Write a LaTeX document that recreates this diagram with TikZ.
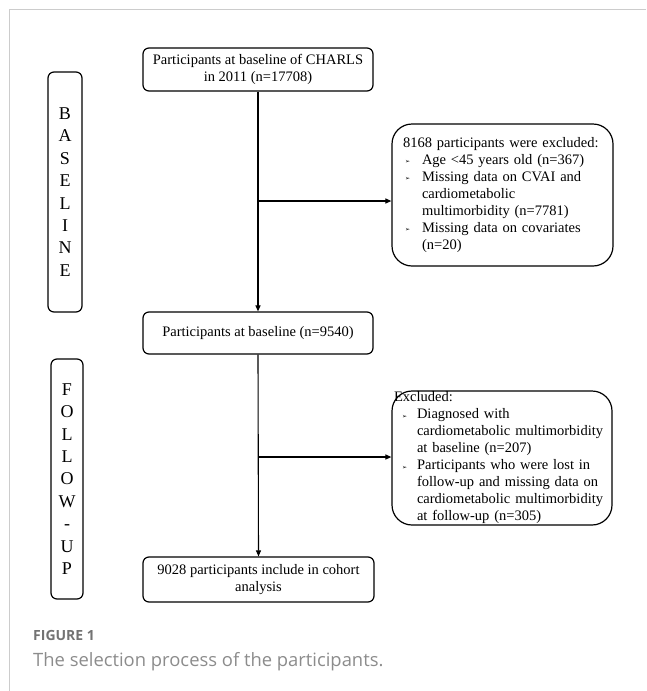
\documentclass[tikz,border=0pt]{standalone}
\usepackage{fontspec}
\setmainfont{Liberation Serif}
\newfontfamily\capfont{Open Sans}
\newfontfamily\symfont{DejaVu Sans}
\usetikzlibrary{arrows.meta}
\newcommand{\bli}[2]{\makebox[#2][l]{\hspace{#1}\raisebox{0.6pt}{\symfont\fontsize{6}{6}\selectfont ➢}}}
\begin{document}
\begin{tikzpicture}[x=1pt,y=-1pt,
  mainbox/.style={draw, line width=1.2pt, rounded corners=6pt, align=center,
    font=\fontsize{14.5}{17}\selectfont, inner sep=0pt},
  sidebox/.style={draw, line width=1.2pt, rounded corners=6pt, align=center,
    font=\fontsize{18}{22.4}\selectfont, inner sep=0pt},
  exbox/.style={draw, line width=1.2pt, rounded corners=20pt, align=left,
    font=\fontsize{14.5}{17}\selectfont, inner ysep=0pt},
  arr/.style={line width=1.1pt, -{Triangle[length=6pt,width=5pt]}},
  frame/.style={draw=black!20, line width=0.8pt}]
\useasboundingbox (0,0) rectangle (646,691);
\draw[frame] (9,691) -- (9,9) -- (646,9);

\node[mainbox, minimum width=230pt, minimum height=43pt] (top) at (258,69.5)
  {Participants at baseline of CHARLS\\in 2011 (n=17708)};
\node[mainbox, minimum width=230pt, minimum height=42pt] (base) at (258,333)
  {Participants at baseline (n=9540)};
\node[mainbox, minimum width=231pt, minimum height=45pt] (final) at (258.5,579.5)
  {9028 participants include in cohort\\analysis};

\node[sidebox, minimum width=34pt, minimum height=240pt] (bl) at (65,192)
  {B\\A\\S\\E\\L\\I\\N\\E};
\node[sidebox, minimum width=32pt, minimum height=240pt] (fu) at (67,479)
  {F\\O\\L\\L\\O\\W\\-\\U\\P};

\node[exbox, inner xsep=11pt, text width=199pt, minimum height=142pt] (ex1) at (502.5,195)
  {8168 participants were excluded:\\
   \bli{2pt}{19pt}Age <45 years old (n=367)\\
   \bli{2pt}{19pt}Missing data on CVAI and\\
   \hspace*{19pt}cardiometabolic\\
   \hspace*{19pt}multimorbidity (n=7781)\\
   \bli{2pt}{19pt}Missing data on covariates\\
   \hspace*{19pt}(n=20)};
\node[exbox, inner xsep=2pt, text width=216pt, minimum height=134pt] (ex2) at (502,458)
  {Excluded:\\
   \bli{8pt}{23pt}Diagnosed with\\
   \hspace*{23pt}cardiometabolic multimorbidity\\
   \hspace*{23pt}at baseline (n=207)\\
   \bli{8pt}{23pt}Participants who were lost in\\
   \hspace*{23pt}follow-up and missing data on\\
   \hspace*{23pt}cardiometabolic multimorbidity\\
   \hspace*{23pt}at follow-up (n=305)};

\coordinate (j1) at (258,201);
\coordinate (j2) at (258,457);
\draw[arr] (top.south) -- (base.north);
\draw[arr] (j1) -- (j1 -| ex1.west);
\draw[arr] (base.south) -- (final.north);
\draw[arr] (j2) -- (j2 -| ex2.west);

\node[anchor=west, inner sep=0pt, text=black!55, font=\capfont\bfseries\fontsize{14}{16}\selectfont] (figlab) at (33,635) {FIGURE 1};
\node[anchor=west, inner sep=0pt, text=black!45, font=\capfont\fontsize{18.4}{21}\selectfont] (figcap) at (33,662) {The selection process of the participants.};
\end{tikzpicture}
\end{document}
